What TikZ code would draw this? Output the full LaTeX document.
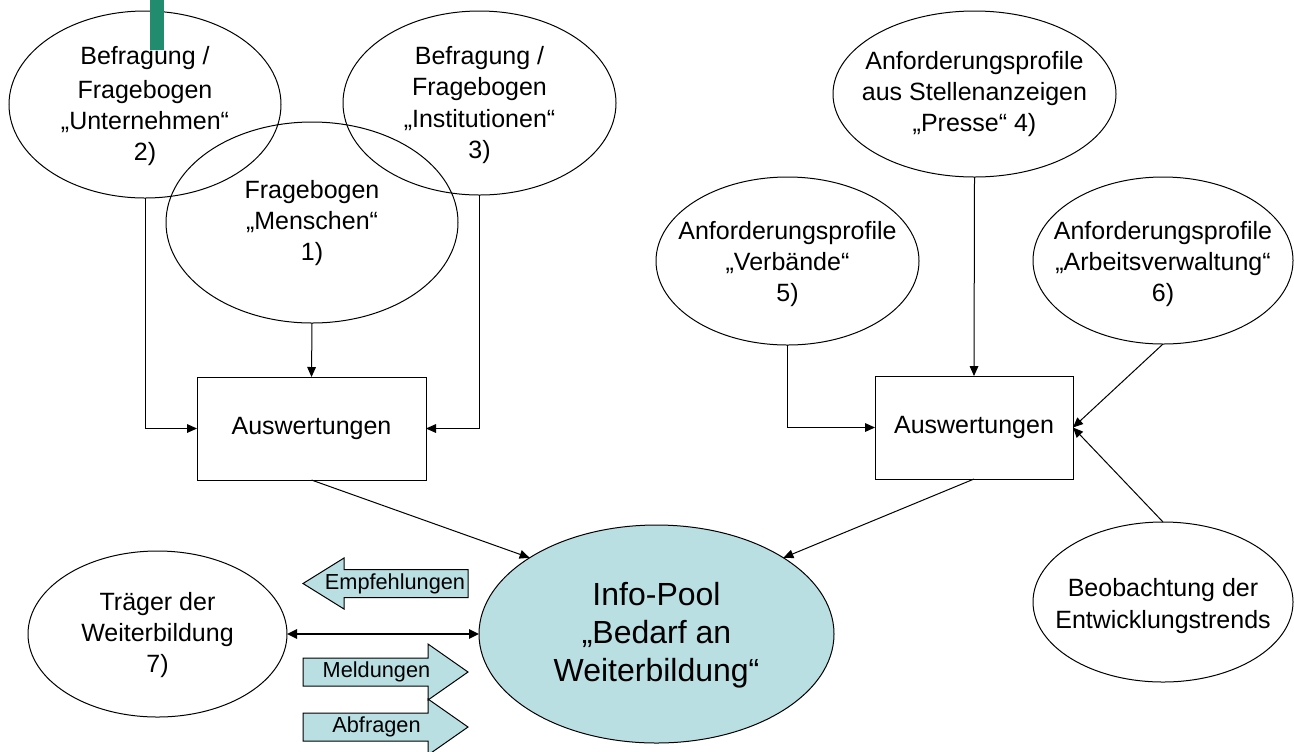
\documentclass[tikz,border=0pt]{standalone}
\usepackage{fontspec}
\setmainfont{Liberation Sans}
\usetikzlibrary{arrows.meta,shapes.geometric}
\definecolor{poolblue}{RGB}{185,223,227}
\definecolor{bargreen}{RGB}{33,140,110}
\begin{document}
\begin{tikzpicture}[x=0.75pt,y=-0.75pt,
  ell/.style={draw=black,line width=0.75pt,ellipse,inner sep=0pt,outer sep=0pt},
  txt/.style={align=center,font=\fontsize{18.75pt}{23.5pt}\selectfont,inner sep=0pt},
  smalltxt/.style={align=center,font=\fontsize{16.3pt}{19pt}\selectfont,inner sep=0pt},
  bigtxt/.style={align=center,font=\fontsize{24pt}{28.5pt}\selectfont,inner sep=0pt},
  evalbox/.style={draw=black,line width=0.75pt,rectangle,inner sep=0pt,outer sep=0pt,minimum height=77.25pt,font=\fontsize{18.75pt}{23.5pt}\selectfont},
  arr/.style={line width=0.75pt,-{Triangle[length=7.5pt,width=6.5pt]}},
  dblarr/.style={line width=1.5pt,{Triangle[length=7.5pt,width=7pt]}-{Triangle[length=7.5pt,width=7pt]}},
  blockarrow/.style={draw=black,line width=0.75pt,fill=poolblue,line join=miter}
]
\useasboundingbox (0,0) rectangle (1294,751);

% ellipses
\node[ell,minimum width=204pt,minimum height=140.25pt] (e2) at (145,104.5) {};
\node[ell,minimum width=219pt,minimum height=150.75pt] (e1) at (312,222.5) {};
\node[ell,minimum width=204.75pt,minimum height=138pt] (e3) at (479.5,103) {};
\node[ell,minimum width=212.25pt,minimum height=124.5pt] (e4) at (974.5,94) {};
\node[ell,minimum width=197.25pt,minimum height=126pt] (e5) at (787.5,261) {};
\node[ell,minimum width=195pt,minimum height=125.25pt] (e6) at (1163,260.5) {};
\node[ell,minimum width=195pt,minimum height=120pt] (beob) at (1163,602) {};
\node[ell,minimum width=194.25pt,minimum height=124.5pt] (trager) at (157.5,634) {};
\node[ell,fill=poolblue,minimum width=266.25pt,minimum height=163.5pt] (pool) at (656.5,634) {};

% green bar
\fill[bargreen] (150,0) rectangle (164,50);

% texts in ellipses
\node[txt] (t2) at (145,106) {Befragung /\\[2pt]Fragebogen\\„Unternehmen“\\2)};
\node[txt] (t1) at (312,223) {Fragebogen\\„Menschen“\\1)};
\node[txt] (t3) at (479.5,105) {Befragung /\\Fragebogen\\„Institutionen“\\3)};
\node[txt] (t4) at (974.5,94) {Anforderungsprofile\\aus Stellenanzeigen\\„Presse“ 4)};
\node[txt] (t5) at (787.5,264) {Anforderungsprofile\\„Verbände“\\5)};
\node[txt] (t6) at (1163,264) {Anforderungsprofile\\„Arbeitsverwaltung“\\6)};
\node[txt] (tb) at (1163,606) {Beobachtung der\\Entwicklungstrends};
\node[txt] (tt) at (157.5,635) {Träger der\\Weiterbildung\\7)};
\node[bigtxt] (tp) at (656.5,635) {Info-Pool\\„Bedarf an\\Weiterbildung“};

% boxes
\node[evalbox,minimum width=171.75pt] (box1) at (311.5,428.5) {Auswertungen};
\node[evalbox,minimum width=148.5pt] (box2) at (974,427.5) {Auswertungen};

% connectors
\draw[arr] (e2.south) |- (box1.west);
\draw[arr] (e1.south) -- (box1.north);
\draw[arr] (e3.south) |- (box1.east);
\draw[arr] (e4.south) -- (box2.north);
\draw[arr] (e5.south) |- (box2.west);
\draw[arr] (e6.south) -- (box2.east);
\draw[arr] (beob.north) -- (box2.east);
\draw[arr] (box1.south) -- (pool.149);
\draw[arr] (box2.south) -- (pool.31);
\draw[dblarr] (trager.east) -- (pool.west);

% block arrows
\draw[blockarrow] (303,583.5) -- (344,558) -- (344,569.5) -- (468,569.5) -- (468,597.5) -- (344,597.5) -- (344,609) -- cycle;
\node[smalltxt] (empf) at (395,583.5) {Empfehlungen};
\draw[blockarrow] (303,658) -- (428,658) -- (428,644) -- (468,672) -- (428,700) -- (428,686) -- (303,686) -- cycle;
\node[smalltxt] (meld) at (376.5,672) {Meldungen};
\draw[blockarrow] (303,713) -- (428,713) -- (428,699) -- (468,727) -- (428,755) -- (428,741) -- (303,741) -- cycle;
\node[smalltxt] (abfr) at (376.5,727) {Abfragen};
\end{tikzpicture}
\end{document}
